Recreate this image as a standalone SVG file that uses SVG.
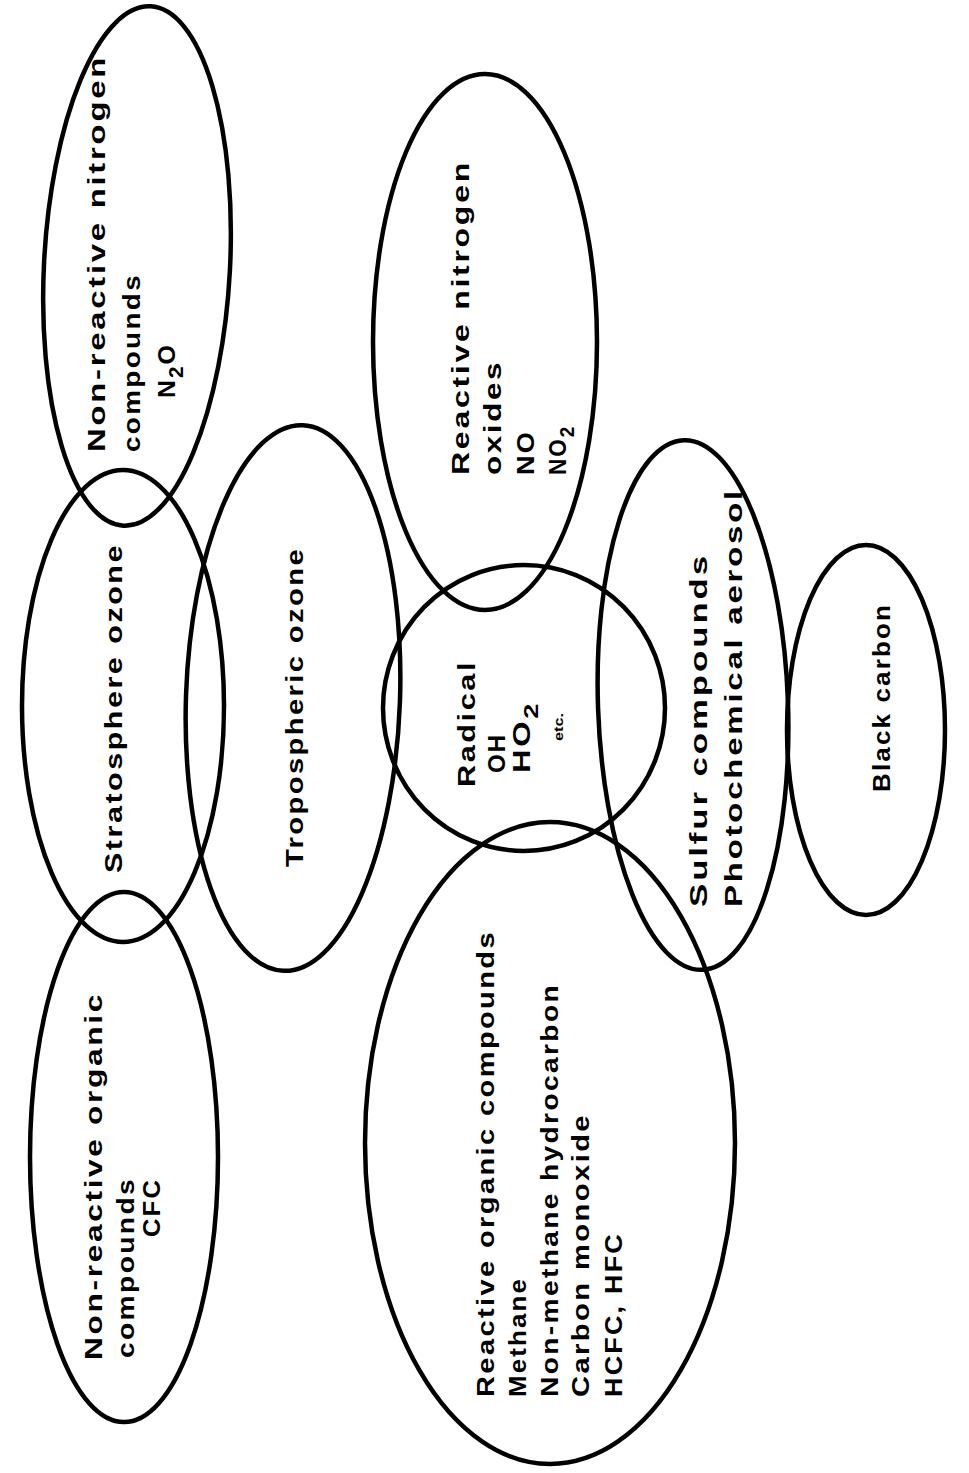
<svg xmlns="http://www.w3.org/2000/svg" width="969" height="1473" viewBox="0 0 969 1473">
<style>
.o{fill:none;stroke:#000;stroke-width:4.5}
.t{font-family:"Liberation Sans",Arial,sans-serif;font-weight:bold;font-size:24px;letter-spacing:2px;fill:#000}
.s{font-size:20px}
</style>
<rect width="969" height="1473" fill="#fff"/>
<g id="connectors"/>
<g id="non-reactive-nitrogen">
<ellipse class="o" cx="137" cy="266" rx="93" ry="260" transform="rotate(3 137 266)"/>
<text class="t" transform="translate(105,452) rotate(-90)" textLength="397" lengthAdjust="spacingAndGlyphs">Non-reactive  nitrogen</text>
<text class="t" transform="translate(140,452) rotate(-90)" textLength="179" lengthAdjust="spacingAndGlyphs">compounds</text>
<text class="t" transform="translate(175,398) rotate(-90)" textLength="55" lengthAdjust="spacingAndGlyphs">N<tspan class="s" dy="8">2</tspan><tspan dy="-8">O</tspan></text>
</g>
<g id="stratosphere-ozone">
<ellipse class="o" cx="123" cy="706" rx="101" ry="236"/>
<text class="t" transform="translate(122,873) rotate(-90)" textLength="330" lengthAdjust="spacingAndGlyphs">Stratosphere ozone</text>
</g>
<g id="tropospheric-ozone">
<ellipse class="o" cx="293" cy="698" rx="107" ry="273" transform="rotate(2 293 698)"/>
<text class="t" transform="translate(303,867) rotate(-90)" textLength="320" lengthAdjust="spacingAndGlyphs">Tropospheric ozone</text>
</g>
<g id="non-reactive-organic">
<ellipse class="o" cx="124" cy="1157" rx="94" ry="265"/>
<text class="t" transform="translate(102,1360) rotate(-90)" textLength="368" lengthAdjust="spacingAndGlyphs">Non-reactive organic</text>
<text class="t" transform="translate(134,1358) rotate(-90)" textLength="181" lengthAdjust="spacingAndGlyphs">compounds</text>
<text class="t" transform="translate(160,1237) rotate(-90)" textLength="59" lengthAdjust="spacingAndGlyphs">CFC</text>
</g>
<g id="reactive-nitrogen-oxides">
<ellipse class="o" cx="485" cy="342" rx="112" ry="268"/>
<text class="t" transform="translate(469,475) rotate(-90)" textLength="315" lengthAdjust="spacingAndGlyphs">Reactive nitrogen</text>
<text class="t" transform="translate(501,475) rotate(-90)" textLength="115" lengthAdjust="spacingAndGlyphs">oxides</text>
<text class="t" transform="translate(534,475) rotate(-90)" textLength="45" lengthAdjust="spacingAndGlyphs">NO</text>
<text class="t" transform="translate(566,475) rotate(-90)" textLength="50" lengthAdjust="spacingAndGlyphs">NO<tspan class="s" dy="8">2</tspan></text>
</g>
<g id="radical">
<ellipse class="o" cx="524" cy="708" rx="141" ry="143"/>
<text class="t" transform="translate(475,787) rotate(-90)" textLength="127" lengthAdjust="spacingAndGlyphs">Radical</text>
<text class="t" transform="translate(505,773) rotate(-90)" textLength="40" lengthAdjust="spacingAndGlyphs">OH</text>
<text class="t" transform="translate(530,773) rotate(-90)" textLength="72" lengthAdjust="spacingAndGlyphs">HO<tspan class="s" dy="8">2</tspan></text>
<text class="t" transform="translate(563,741) rotate(-90)" style="font-size:13px;letter-spacing:0" textLength="28" lengthAdjust="spacingAndGlyphs">etc.</text>
</g>
<g id="reactive-organic">
<ellipse class="o" cx="550" cy="1143" rx="185" ry="321"/>
<text class="t" transform="translate(494,1397) rotate(-90)" textLength="467" lengthAdjust="spacingAndGlyphs">Reactive organic compounds</text>
<text class="t" transform="translate(526,1397) rotate(-90)" textLength="120" lengthAdjust="spacingAndGlyphs">Methane</text>
<text class="t" transform="translate(558,1397) rotate(-90)" textLength="414" lengthAdjust="spacingAndGlyphs">Non-methane hydrocarbon</text>
<text class="t" transform="translate(589,1397) rotate(-90)" textLength="284" lengthAdjust="spacingAndGlyphs">Carbon monoxide</text>
<text class="t" transform="translate(622,1397) rotate(-90)" textLength="165" lengthAdjust="spacingAndGlyphs">HCFC, HFC</text>
</g>
<g id="sulfur-compounds">
<ellipse class="o" cx="693" cy="705" rx="95" ry="265" transform="rotate(-2 693 705)"/>
<text class="t" transform="translate(707,907) rotate(-90)" textLength="354" lengthAdjust="spacingAndGlyphs">Sulfur compounds</text>
<text class="t" transform="translate(742,907) rotate(-90)" textLength="419" lengthAdjust="spacingAndGlyphs">Photochemical aerosol</text>
</g>
<g id="black-carbon">
<ellipse class="o" cx="866" cy="730" rx="79" ry="185"/>
<text class="t" transform="translate(890,792) rotate(-90)" textLength="189" lengthAdjust="spacingAndGlyphs">Black carbon</text>
</g>
</svg>
